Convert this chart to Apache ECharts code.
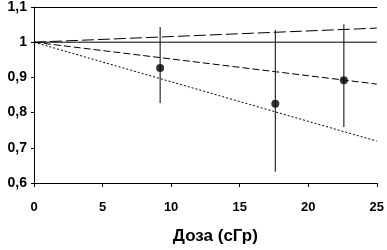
<!DOCTYPE html>
<html><head><meta charset="utf-8">
<script src="https://cdn.jsdelivr.net/npm/echarts@6/dist/echarts.min.js"></script>
<style>html,body{margin:0;padding:0;background:#fff}#c{width:387px;height:250px}</style>
</head><body><div id="c"></div>
<script>
const doses = [9.2, 17.6, 22.6];
const means = [0.927, 0.825, 0.892];
const lows = [0.827, 0.632, 0.759];
const highs = [1.043, 1.035, 1.051];
const refLine = [[0, 1], [25, 1]];
const upperFit = [[0, 1], [25, 1.04]];
const middleFit = [[0, 1], [25, 0.881]];
const lowerFit = [[0, 1], [25, 0.719]];
const xTitle = 'Доза (сГр)';

const chart = echarts.init(document.getElementById('c'), null, {renderer: 'canvas'});
const font = 'Liberation Sans, Arial, sans-serif';
const lineSeries = (data, type) => ({
  type: 'line', data, symbol: 'none', silent: true, animation: false,
  lineStyle: {color: '#000', width: 1, type}
});
chart.setOption({
  animation: false,
  grid: {left: 34, right: 4, top: 5, bottom: 59},
  xAxis: [{
    type: 'value', min: 0, max: 25, interval: 5,
    axisLine: {lineStyle: {color: '#000', width: 1}},
    axisTick: {show: true, length: 4, lineStyle: {color: '#000'}},
    splitLine: {show: false},
    axisLabel: {color: '#000', fontFamily: font, fontWeight: 'bold', fontSize: 13, margin: 18},
    name: xTitle, nameLocation: 'middle', nameGap: 45,
    nameTextStyle: {color: '#000', fontFamily: font, fontWeight: 'bold', fontSize: 17, padding: [0, 0, 0, 20]}
  }, {
    type: 'value', min: 0, max: 25, position: 'top',
    axisLine: {show: true, onZero: false, lineStyle: {color: '#000', width: 1}},
    axisTick: {show: false}, axisLabel: {show: false}, splitLine: {show: false}
  }],
  yAxis: {
    type: 'value', min: 0.6, max: 1.1, interval: 0.1,
    axisLine: {show: true, lineStyle: {color: '#000', width: 1}},
    axisTick: {show: true, length: 3, lineStyle: {color: '#000'}},
    splitLine: {show: false},
    axisLabel: {color: '#000', fontFamily: font, fontWeight: 'bold', fontSize: 14, margin: 7,
      formatter: v => String(Math.round(v * 10) / 10).replace('.', ',')}
  },
  series: [
    lineSeries(refLine, 'solid'),
    lineSeries(upperFit, [12, 4]),
    lineSeries(middleFit, [7, 3]),
    lineSeries(lowerFit, [2, 2]),
    {
      type: 'custom', silent: true, animation: false,
      data: doses.map((d, i) => [d, lows[i], highs[i]]),
      renderItem: (params, api) => {
        const a = api.coord([api.value(0), api.value(1)]);
        const b = api.coord([api.value(0), api.value(2)]);
        return {type: 'line', shape: {x1: a[0], y1: a[1], x2: b[0], y2: b[1]},
          style: {stroke: '#000', lineWidth: 1}};
      }
    },
    {
      type: 'scatter', data: doses.map((d, i) => [d, means[i]]),
      symbol: 'circle', symbolSize: 8, itemStyle: {color: '#000'}, silent: true, animation: false
    }
  ]
});
</script></body></html>
